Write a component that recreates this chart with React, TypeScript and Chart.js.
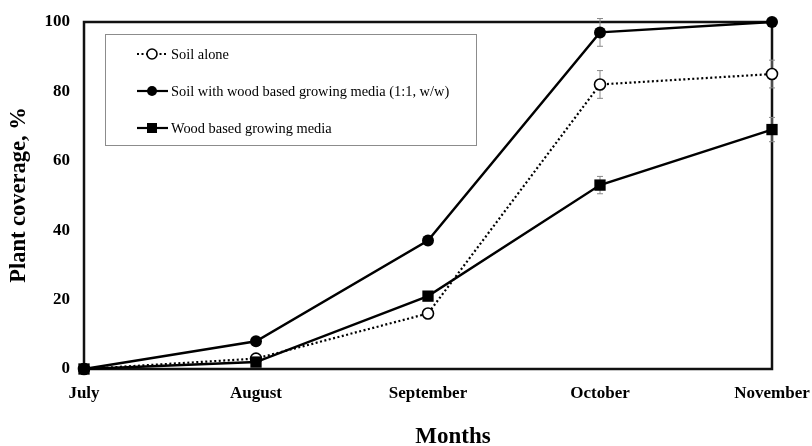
import React, { useEffect, useRef } from 'react';
import { Chart, registerables } from 'chart.js';

Chart.register(...registerables);

const months = ['July', 'August', 'September', 'October', 'November'];
const yTicks = [0, 20, 40, 60, 80, 100];

const soilAlone = [0, 3, 16, 82, 85];
const soilWood = [0, 8, 37, 97, 100];
const woodMedia = [0, 2, 21, 53, 69];

const soilAloneErr = [0, 1, 1, 4, 4];
const soilWoodErr = [0, 1, 1, 4, 0];
const woodMediaErr = [0, 0.5, 1, 2.5, 3.5];

const seriesNames = [
  'Soil alone',
  'Soil with wood based growing media (1:1, w/w)',
  'Wood based growing media',
];

const yTitle = 'Plant coverage, %';
const xTitle = 'Months';

const SERIF = "'Liberation Serif', 'Times New Roman', serif";

const errors = [soilAloneErr, soilWoodErr, woodMediaErr];

const errorBarPlugin = {
  id: 'errorBars',
  beforeDatasetsDraw(chart: any) {
    const ctx = chart.ctx;
    const yScale = chart.scales.y;
    ctx.save();
    ctx.strokeStyle = '#8a8a8a';
    ctx.lineWidth = 1;
    chart.data.datasets.forEach((ds: any, di: number) => {
      const meta = chart.getDatasetMeta(di);
      const errs = errors[di];
      meta.data.forEach((pt: any, i: number) => {
        const e = errs[i];
        if (!e) return;
        const v = ds.data[i];
        const yTop = yScale.getPixelForValue(v + e);
        const yBot = yScale.getPixelForValue(v - e);
        const x = pt.x;
        ctx.beginPath();
        ctx.moveTo(x, yTop);
        ctx.lineTo(x, yBot);
        ctx.moveTo(x - 3, yTop);
        ctx.lineTo(x + 3, yTop);
        ctx.moveTo(x - 3, yBot);
        ctx.lineTo(x + 3, yBot);
        ctx.stroke();
      });
    });
    ctx.restore();
  },
};

const framePlugin = {
  id: 'frame',
  beforeDatasetsDraw(chart: any) {
    const { ctx, chartArea } = chart;
    ctx.save();
    ctx.strokeStyle = '#111';
    ctx.lineWidth = 2.5;
    ctx.strokeRect(chartArea.left, chartArea.top, chartArea.right - chartArea.left, chartArea.bottom - chartArea.top);
    ctx.restore();
  },
};

function drawMarker(ctx: CanvasRenderingContext2D, kind: number, x: number, y: number) {
  ctx.save();
  ctx.strokeStyle = '#000';
  ctx.fillStyle = '#000';
  if (kind === 0) {
    ctx.beginPath();
    ctx.arc(x, y, 5, 0, Math.PI * 2);
    ctx.fillStyle = '#fff';
    ctx.fill();
    ctx.lineWidth = 1.6;
    ctx.stroke();
  } else if (kind === 1) {
    ctx.beginPath();
    ctx.arc(x, y, 5, 0, Math.PI * 2);
    ctx.fill();
  } else {
    ctx.fillRect(x - 5, y - 5, 10, 10);
  }
  ctx.restore();
}

const legendTitlePlugin = {
  id: 'legendTitles',
  afterDraw(chart: any) {
    const { ctx } = chart;
    ctx.save();
    const bx = 105, by = 34, bw = 371, bh = 111;
    ctx.fillStyle = '#fff';
    ctx.fillRect(bx, by, bw, bh);
    ctx.strokeStyle = '#8c8c8c';
    ctx.lineWidth = 1;
    ctx.strokeRect(bx + 0.5, by + 0.5, bw, bh);
    const rows = [54, 91, 128];
    ctx.font = `14.4px ${SERIF}`;
    ctx.textBaseline = 'middle';
    ctx.textAlign = 'left';
    seriesNames.forEach((name, i) => {
      const y = rows[i];
      ctx.save();
      ctx.strokeStyle = '#000';
      ctx.lineWidth = i === 0 ? 2 : 2.2;
      ctx.setLineDash(i === 0 ? [2, 2.5] : []);
      ctx.beginPath();
      ctx.moveTo(137, y);
      ctx.lineTo(168, y);
      ctx.stroke();
      ctx.restore();
      drawMarker(ctx, i, 152, y);
      ctx.fillStyle = '#000';
      ctx.fillText(name, 171, y + 1);
    });
    ctx.fillStyle = '#000';
    ctx.font = `bold 23px ${SERIF}`;
    ctx.textAlign = 'center';
    ctx.textBaseline = 'middle';
    ctx.fillText(xTitle, 453, 437);
    ctx.font = `bold 22.5px ${SERIF}`;
    ctx.translate(19, 195);
    ctx.rotate(-Math.PI / 2);
    ctx.fillText(yTitle, 0, 0);
    ctx.restore();
  },
};

export default function App() {
  const canvasRef = useRef<HTMLCanvasElement | null>(null);

  useEffect(() => {
    if (!canvasRef.current) return;
    const chart = new Chart(canvasRef.current, {
      type: 'line',
      data: {
        labels: months,
        datasets: [
          {
            label: seriesNames[0],
            data: soilAlone,
            borderColor: '#000',
            borderWidth: 2.2,
            borderDash: [2, 2.5],
            pointStyle: 'circle',
            pointRadius: 5.5,
            pointBackgroundColor: '#fff',
            pointBorderColor: '#000',
            pointBorderWidth: 1.6,
            tension: 0,
            clip: false,
            order: 3,
          },
          {
            label: seriesNames[1],
            data: soilWood,
            borderColor: '#000',
            borderWidth: 2.4,
            pointStyle: 'circle',
            pointRadius: 6,
            pointBackgroundColor: '#000',
            pointBorderColor: '#000',
            pointBorderWidth: 0,
            tension: 0,
            clip: false,
            order: 2,
          },
          {
            label: seriesNames[2],
            data: woodMedia,
            borderColor: '#000',
            borderWidth: 2.4,
            pointStyle: 'rect',
            pointRadius: 8,
            pointBackgroundColor: '#000',
            pointBorderColor: '#000',
            pointBorderWidth: 0,
            tension: 0,
            clip: false,
            order: 1,
          },
        ],
      },
      options: {
        animation: false,
        responsive: true,
        maintainAspectRatio: false,
        layout: { padding: { left: 0, right: 40, top: 22, bottom: 0 } },
        plugins: {
          legend: { display: false },
          tooltip: { enabled: false },
          title: { display: false },
        },
        scales: {
          x: {
            type: 'category',
            offset: false,
            grid: { display: false, drawTicks: false },
            border: { display: false },
            ticks: {
              color: '#000',
              font: { family: SERIF, size: 17, weight: 'bold' },
              padding: 14,
              maxRotation: 0,
              autoSkip: false,
            },
            afterFit: (scale: any) => {
              scale.height = 77;
              scale.paddingLeft = 0;
              scale.paddingRight = 0;
            },
          },
          y: {
            min: 0,
            max: 100,
            grid: { display: false, drawTicks: false },
            border: { display: false },
            afterBuildTicks: (scale: any) => {
              scale.ticks = yTicks.map((v) => ({ value: v }));
            },
            ticks: {
              color: '#000',
              font: { family: SERIF, size: 17, weight: 'bold' },
              padding: 14,
            },
            afterFit: (scale: any) => {
              scale.width = 84;
              scale.paddingTop = 0;
              scale.paddingBottom = 0;
            },
          },
        },
      },
      plugins: [framePlugin, errorBarPlugin, legendTitlePlugin],
    } as any);
    return () => chart.destroy();
  }, []);

  return (
    <div style={{ position: 'fixed', left: 0, top: 0, width: 812, height: 446, background: '#fff' }}>
      <canvas ref={canvasRef} />
    </div>
  );
}
